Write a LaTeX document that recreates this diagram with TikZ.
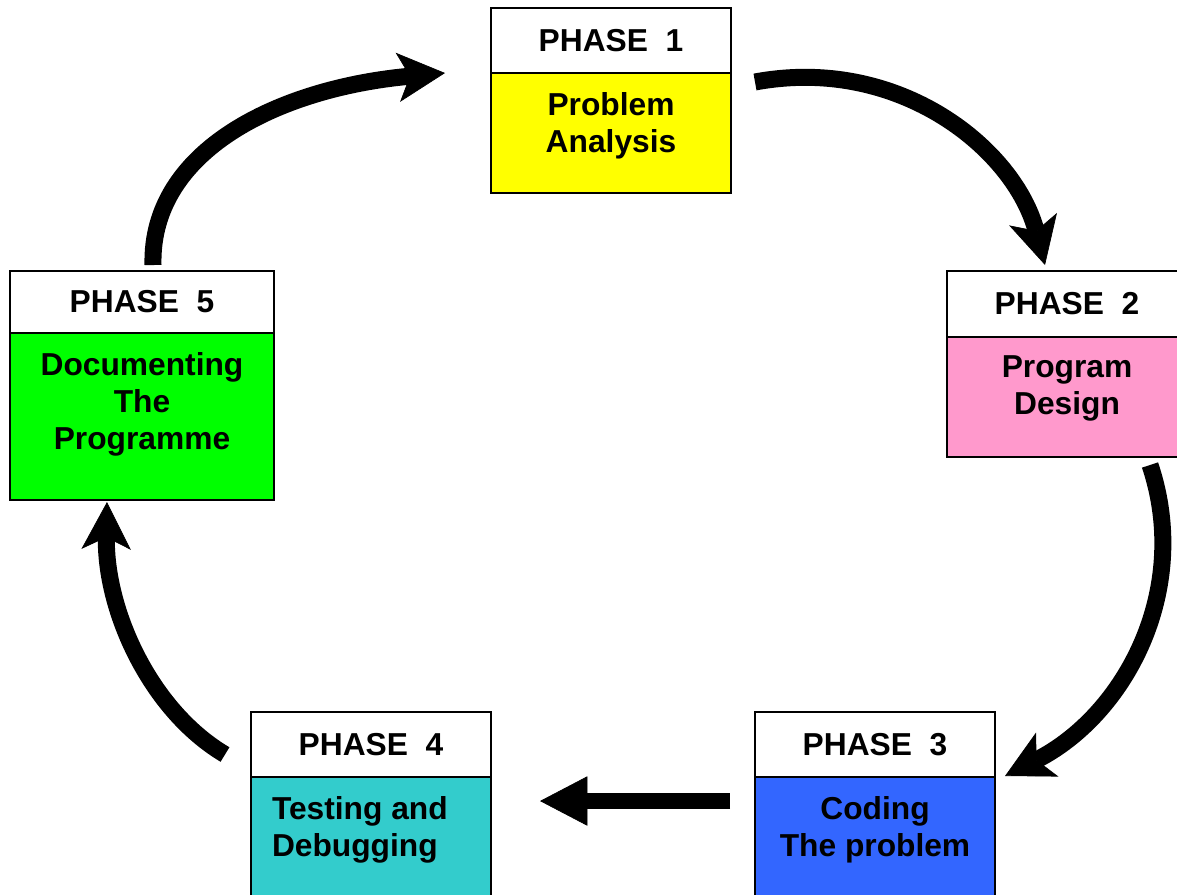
\documentclass[tikz,border=0pt]{standalone}
\usepackage{fontspec}
\setmainfont{Liberation Sans}
\usetikzlibrary{arrows.meta,calc}

\definecolor{phaseyellow}{HTML}{FFFF00}
\definecolor{phasepink}{HTML}{FF99CC}
\definecolor{phaseblue}{HTML}{3366FF}
\definecolor{phaseteal}{HTML}{33CCCC}
\definecolor{phasegreen}{HTML}{00FF00}

\begin{document}
\begin{tikzpicture}[x=0.75pt,y=-0.75pt,
  bigfont/.style={font=\fontsize{23.8pt}{27.75pt}\selectfont\bfseries},
  hdr/.style={draw=black,line width=1.5pt,fill=white,inner sep=0pt,outer sep=0pt,
    minimum width=180pt,minimum height=48.75pt,bigfont},
  bdy/.style={draw=black,line width=1.5pt,inner sep=0pt,outer sep=0pt,minimum width=180pt},
  btxt/.style={inner sep=0pt,outer sep=0pt,align=center,bigfont},
  cyc/.style={line width=12.75pt,
    -{Stealth[length=35.5pt,width=37pt,inset=9pt,line width=0.5pt]}},
  flat/.style={line width=12pt,
    -{Triangle[length=35.5pt,width=37pt,line width=0.5pt]}}]

\useasboundingbox (0,0) rectangle (1177,894);
\clip (0,0) rectangle (1177,894);

% Phase 1
\node[hdr,anchor=north west] (p1h) at (491,8) {PHASE\ \ 1};
\node[bdy,fill=phaseyellow,minimum height=90pt,anchor=north] (p1b) at (p1h.south) {};
\node[btxt,anchor=north] (p1t) at ([yshift=-14.25pt]p1b.north) {Problem\\Analysis};

% Phase 2
\node[hdr,minimum height=49.5pt,anchor=north west] (p2h) at (947,271) {PHASE\ \ 2};
\node[bdy,fill=phasepink,minimum height=90pt,anchor=north] (p2b) at (p2h.south) {};
\node[btxt,anchor=north] (p2t) at ([yshift=-14.25pt]p2b.north) {Program\\Design};

% Phase 3
\node[hdr,anchor=north west] (p3h) at (755,712) {PHASE\ \ 3};
\node[bdy,fill=phaseblue,minimum height=100pt,anchor=north] (p3b) at (p3h.south) {};
\node[btxt,anchor=north] (p3t) at ([yshift=-14.25pt]p3b.north) {Coding\\The problem};

% Phase 4
\node[hdr,anchor=north west] (p4h) at (251,712) {PHASE\ \ 4};
\node[bdy,fill=phaseteal,minimum height=100pt,anchor=north] (p4b) at (p4h.south) {};
\node[btxt,align=left,anchor=north west] (p4t) at ([shift={(21,19)}]p4b.north west) {Testing and\\Debugging};

% Phase 5
\node[hdr,minimum width=198pt,minimum height=46.5pt,anchor=north west] (p5h) at (10,271) {PHASE\ \ 5};
\node[bdy,fill=phasegreen,minimum width=198pt,minimum height=125.25pt,anchor=north] (p5b) at (p5h.south) {};
\node[btxt,anchor=north] (p5t) at ([yshift=-14.25pt]p5b.north) {Documenting\\The\\Programme};

% Cycle arrows
\draw[cyc] ([shift={(24,9)}]p1h.south east)
  .. controls (900,55) and (1015,150) .. ([shift={(98,-6)}]p2h.north west);
\draw[cyc] ([shift={(203,8)}]p2b.south west)
  .. controls (1192,590) and (1125,715) .. ([shift={(10,-1)}]p3h.south east);
\draw[flat] ([shift={(-25,24)}]p3b.north west) -- ([shift={(49,24)}]p4b.north east);
\draw[cyc] ([shift={(-26,10)}]p4h.west)
  .. controls (150,710) and (105,610) .. ([shift={(97,2)}]p5b.south west);
\draw[cyc] ([shift={(143,-6)}]p5h.north west)
  .. controls (150,150) and (280,88) .. ([shift={(-46,0)}]p1h.south west);

\end{tikzpicture}
\end{document}
